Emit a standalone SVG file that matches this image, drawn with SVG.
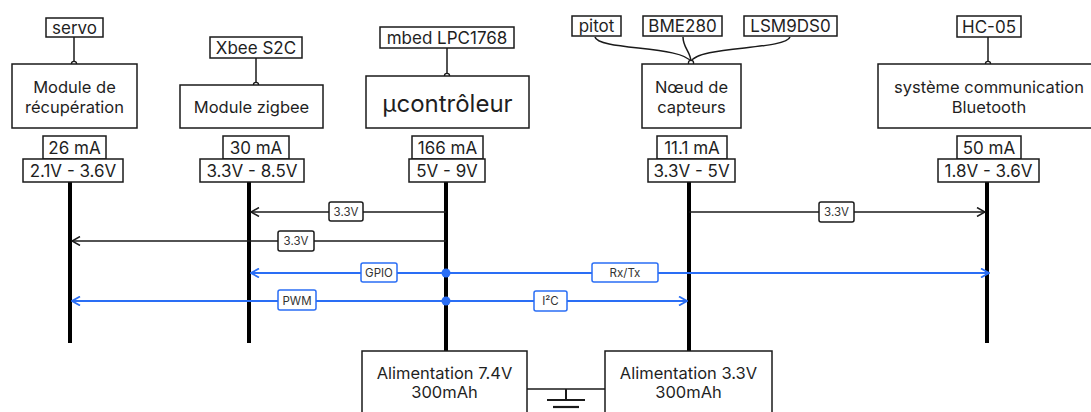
<svg xmlns="http://www.w3.org/2000/svg" width="1091" height="412" viewBox="0 0 1091 412">
<defs>
<style>
.box{fill:#fff;stroke:#1a1a1a;stroke-width:1.5}
.t{font-family:Inter,"Liberation Sans",sans-serif;fill:#1f1f1f;text-anchor:middle;dominant-baseline:central}
.n{font-size:16.5px}
.v{font-size:17px}
.big{font-size:24px}
.lbl{font-size:11.5px;fill:#333}
.bus{stroke:#000;stroke-width:4;fill:none}
.wire{stroke:#1a1a1a;stroke-width:1.5;fill:none}
.pow{stroke:#1a1a1a;stroke-width:1.5;fill:none;marker-end:url(#ab)}
.sig{stroke:#2a6ef5;stroke-width:2;fill:none;marker-end:url(#abl)}
.lb{fill:#fff;stroke:#1a1a1a;stroke-width:1.5}
.lbb{fill:#fff;stroke:#2a6ef5;stroke-width:1.5}
.pin{fill:#fff;stroke:#1a1a1a;stroke-width:1.3}
</style>
<marker id="ab" viewBox="0 0 10 10" refX="9" refY="5" markerWidth="10" markerHeight="10" markerUnits="userSpaceOnUse" orient="auto"><path d="M1,0.5 L9,5 L1,9.5" fill="none" stroke="#1a1a1a" stroke-width="1.5"/></marker>
<marker id="abl" viewBox="0 0 10 10" refX="9" refY="5" markerWidth="10" markerHeight="10" markerUnits="userSpaceOnUse" orient="auto"><path d="M1,0.5 L9,5 L1,9.5" fill="none" stroke="#2a6ef5" stroke-width="1.8"/></marker>
</defs>
<rect width="1091" height="412" fill="#fff"/>

<g id="buses">
<line class="bus" x1="70" y1="182" x2="70" y2="343"/>
<line class="bus" x1="249" y1="182" x2="249" y2="343"/>
<line class="bus" x1="446" y1="182" x2="446" y2="352"/>
<line class="bus" x1="689" y1="182" x2="689" y2="352"/>
<line class="bus" x1="987" y1="182" x2="987" y2="343"/>
</g>

<g id="connectors">
<line class="wire" x1="74" y1="37" x2="74" y2="64"/>
<line class="wire" x1="256" y1="58" x2="256" y2="85"/>
<line class="wire" x1="447" y1="48" x2="447" y2="76"/>
<line class="wire" x1="988" y1="37" x2="988" y2="64"/>
<path class="wire" d="M595,37 C598,50 684,46 691,62"/>
<path class="wire" d="M683,37 C683,48 691,52 691,62"/>
<path class="wire" d="M790,37 C786,50 696,46 691,62"/>
<circle class="pin" cx="74" cy="64" r="2.6"/>
<circle class="pin" cx="256" cy="85" r="2.6"/>
<circle class="pin" cx="447" cy="76" r="2.6"/>
<circle class="pin" cx="691" cy="63" r="2.6"/>
<circle class="pin" cx="988" cy="64" r="2.6"/>

<line class="pow" x1="446" y1="212" x2="251" y2="212"/>
<line class="pow" x1="446" y1="241" x2="72" y2="241"/>
<line class="pow" x1="689" y1="212" x2="985" y2="212"/>
<line class="sig" x1="446" y1="273" x2="251" y2="273"/>
<line class="sig" x1="446" y1="273" x2="989" y2="273"/>
<line class="sig" x1="446" y1="301" x2="72" y2="301"/>
<line class="sig" x1="446" y1="301" x2="687" y2="301"/>
<circle cx="446" cy="273" r="4.5" fill="#2a6ef5"/>
<circle cx="446" cy="301" r="4.5" fill="#2a6ef5"/>

<rect class="lb" x="329" y="202" width="34" height="19" rx="2"/><text class="t lbl" x="346" y="212">3.3V</text>
<rect class="lb" x="278" y="231" width="36" height="20" rx="2"/><text class="t lbl" x="296" y="241">3.3V</text>
<rect class="lb" x="819" y="202" width="35" height="20" rx="2"/><text class="t lbl" x="836.5" y="212">3.3V</text>
<rect class="lbb" x="361" y="263" width="36" height="19" rx="2"/><text class="t lbl" x="379" y="273">GPIO</text>
<rect class="lbb" x="592" y="263" width="66" height="19" rx="2"/><text class="t lbl" x="625" y="273">Rx/Tx</text>
<rect class="lbb" x="278" y="290" width="38" height="20" rx="2"/><text class="t lbl" x="297" y="301">PWM</text>
<rect class="lbb" x="534" y="291" width="33" height="20" rx="2"/><text class="t lbl" x="550.5" y="301">I²C</text>

<line class="wire" x1="527" y1="389" x2="605" y2="389"/>
<line x1="566" y1="389" x2="566" y2="400" stroke="#1a1a1a" stroke-width="2"/>
<line x1="547" y1="400" x2="585" y2="400" stroke="#1a1a1a" stroke-width="2.2"/>
<line x1="553" y1="407" x2="579" y2="407" stroke="#1a1a1a" stroke-width="2.2"/>
</g>

<g id="servo"><rect class="box" x="46" y="18" width="57" height="19"/><text class="t v" x="74.5" y="28">servo</text></g>
<g id="recuperation"><rect class="box" x="12" y="64" width="125" height="64"/><text class="t n" x="74.5" y="87">Module de</text><text class="t n" x="74.5" y="107">récupération</text></g>
<g id="recup-ma"><rect class="box" x="43" y="136" width="63" height="23"/><text class="t v" x="74.5" y="147.5">26 mA</text></g>
<g id="recup-v"><rect class="box" x="23" y="159" width="100" height="23"/><text class="t v" x="73" y="170.5">2.1V - 3.6V</text></g>

<g id="xbee"><rect class="box" x="210" y="37" width="92" height="21"/><text class="t v" x="256" y="47.5">Xbee S2C</text></g>
<g id="zigbee"><rect class="box" x="180" y="85" width="143" height="43"/><text class="t n" x="251.5" y="107">Module zigbee</text></g>
<g id="zigbee-ma"><rect class="box" x="223" y="136" width="66" height="23"/><text class="t v" x="256" y="147.5">30 mA</text></g>
<g id="zigbee-v"><rect class="box" x="200" y="159" width="104" height="23"/><text class="t v" x="252" y="170.5">3.3V - 8.5V</text></g>

<g id="mbed"><rect class="box" x="380" y="27" width="134" height="21"/><text class="t v" x="447" y="37.5">mbed LPC1768</text></g>
<g id="mcu"><rect class="box" x="366" y="76" width="163" height="52"/><text class="t big" x="447.5" y="103">µcontrôleur</text></g>
<g id="mcu-ma"><rect class="box" x="412" y="136" width="71" height="23"/><text class="t v" x="447.5" y="147.5">166 mA</text></g>
<g id="mcu-v"><rect class="box" x="409" y="159" width="76" height="23"/><text class="t v" x="447" y="170.5">5V - 9V</text></g>

<g id="pitot"><rect class="box" x="572" y="16" width="49" height="20"/><text class="t v" x="596.5" y="26">pitot</text></g>
<g id="bme280"><rect class="box" x="643" y="16" width="79" height="20"/><text class="t v" x="682.5" y="26">BME280</text></g>
<g id="lsm9ds0"><rect class="box" x="744" y="16" width="93" height="20"/><text class="t v" x="790.5" y="26">LSM9DS0</text></g>
<g id="capteurs"><rect class="box" x="642" y="64" width="99" height="64"/><text class="t n" x="691.5" y="87">Nœud de</text><text class="t n" x="691.5" y="107">capteurs</text></g>
<g id="capteurs-ma"><rect class="box" x="657" y="136" width="70" height="23"/><text class="t v" x="692" y="147.5">11.1 mA</text></g>
<g id="capteurs-v"><rect class="box" x="648" y="159" width="87" height="23"/><text class="t v" x="691.5" y="170.5">3.3V - 5V</text></g>

<g id="hc05"><rect class="box" x="957" y="16" width="64" height="21"/><text class="t v" x="989" y="26.5">HC-05</text></g>
<g id="bluetooth"><rect class="box" x="878" y="64" width="222" height="64"/><text class="t n" x="989" y="87">système communication</text><text class="t n" x="989" y="107">Bluetooth</text></g>
<g id="bt-ma"><rect class="box" x="957" y="136" width="64" height="23"/><text class="t v" x="989" y="147.5">50 mA</text></g>
<g id="bt-v"><rect class="box" x="938" y="159" width="101" height="23"/><text class="t v" x="988.5" y="170.5">1.8V - 3.6V</text></g>

<g id="alim74"><rect class="box" x="362" y="351" width="165" height="80"/><text class="t n" x="444.5" y="373">Alimentation 7.4V</text><text class="t n" x="444.5" y="392">300mAh</text></g>
<g id="alim33"><rect class="box" x="605" y="351" width="167" height="80"/><text class="t n" x="688.5" y="373">Alimentation 3.3V</text><text class="t n" x="688.5" y="392">300mAh</text></g>
</svg>
